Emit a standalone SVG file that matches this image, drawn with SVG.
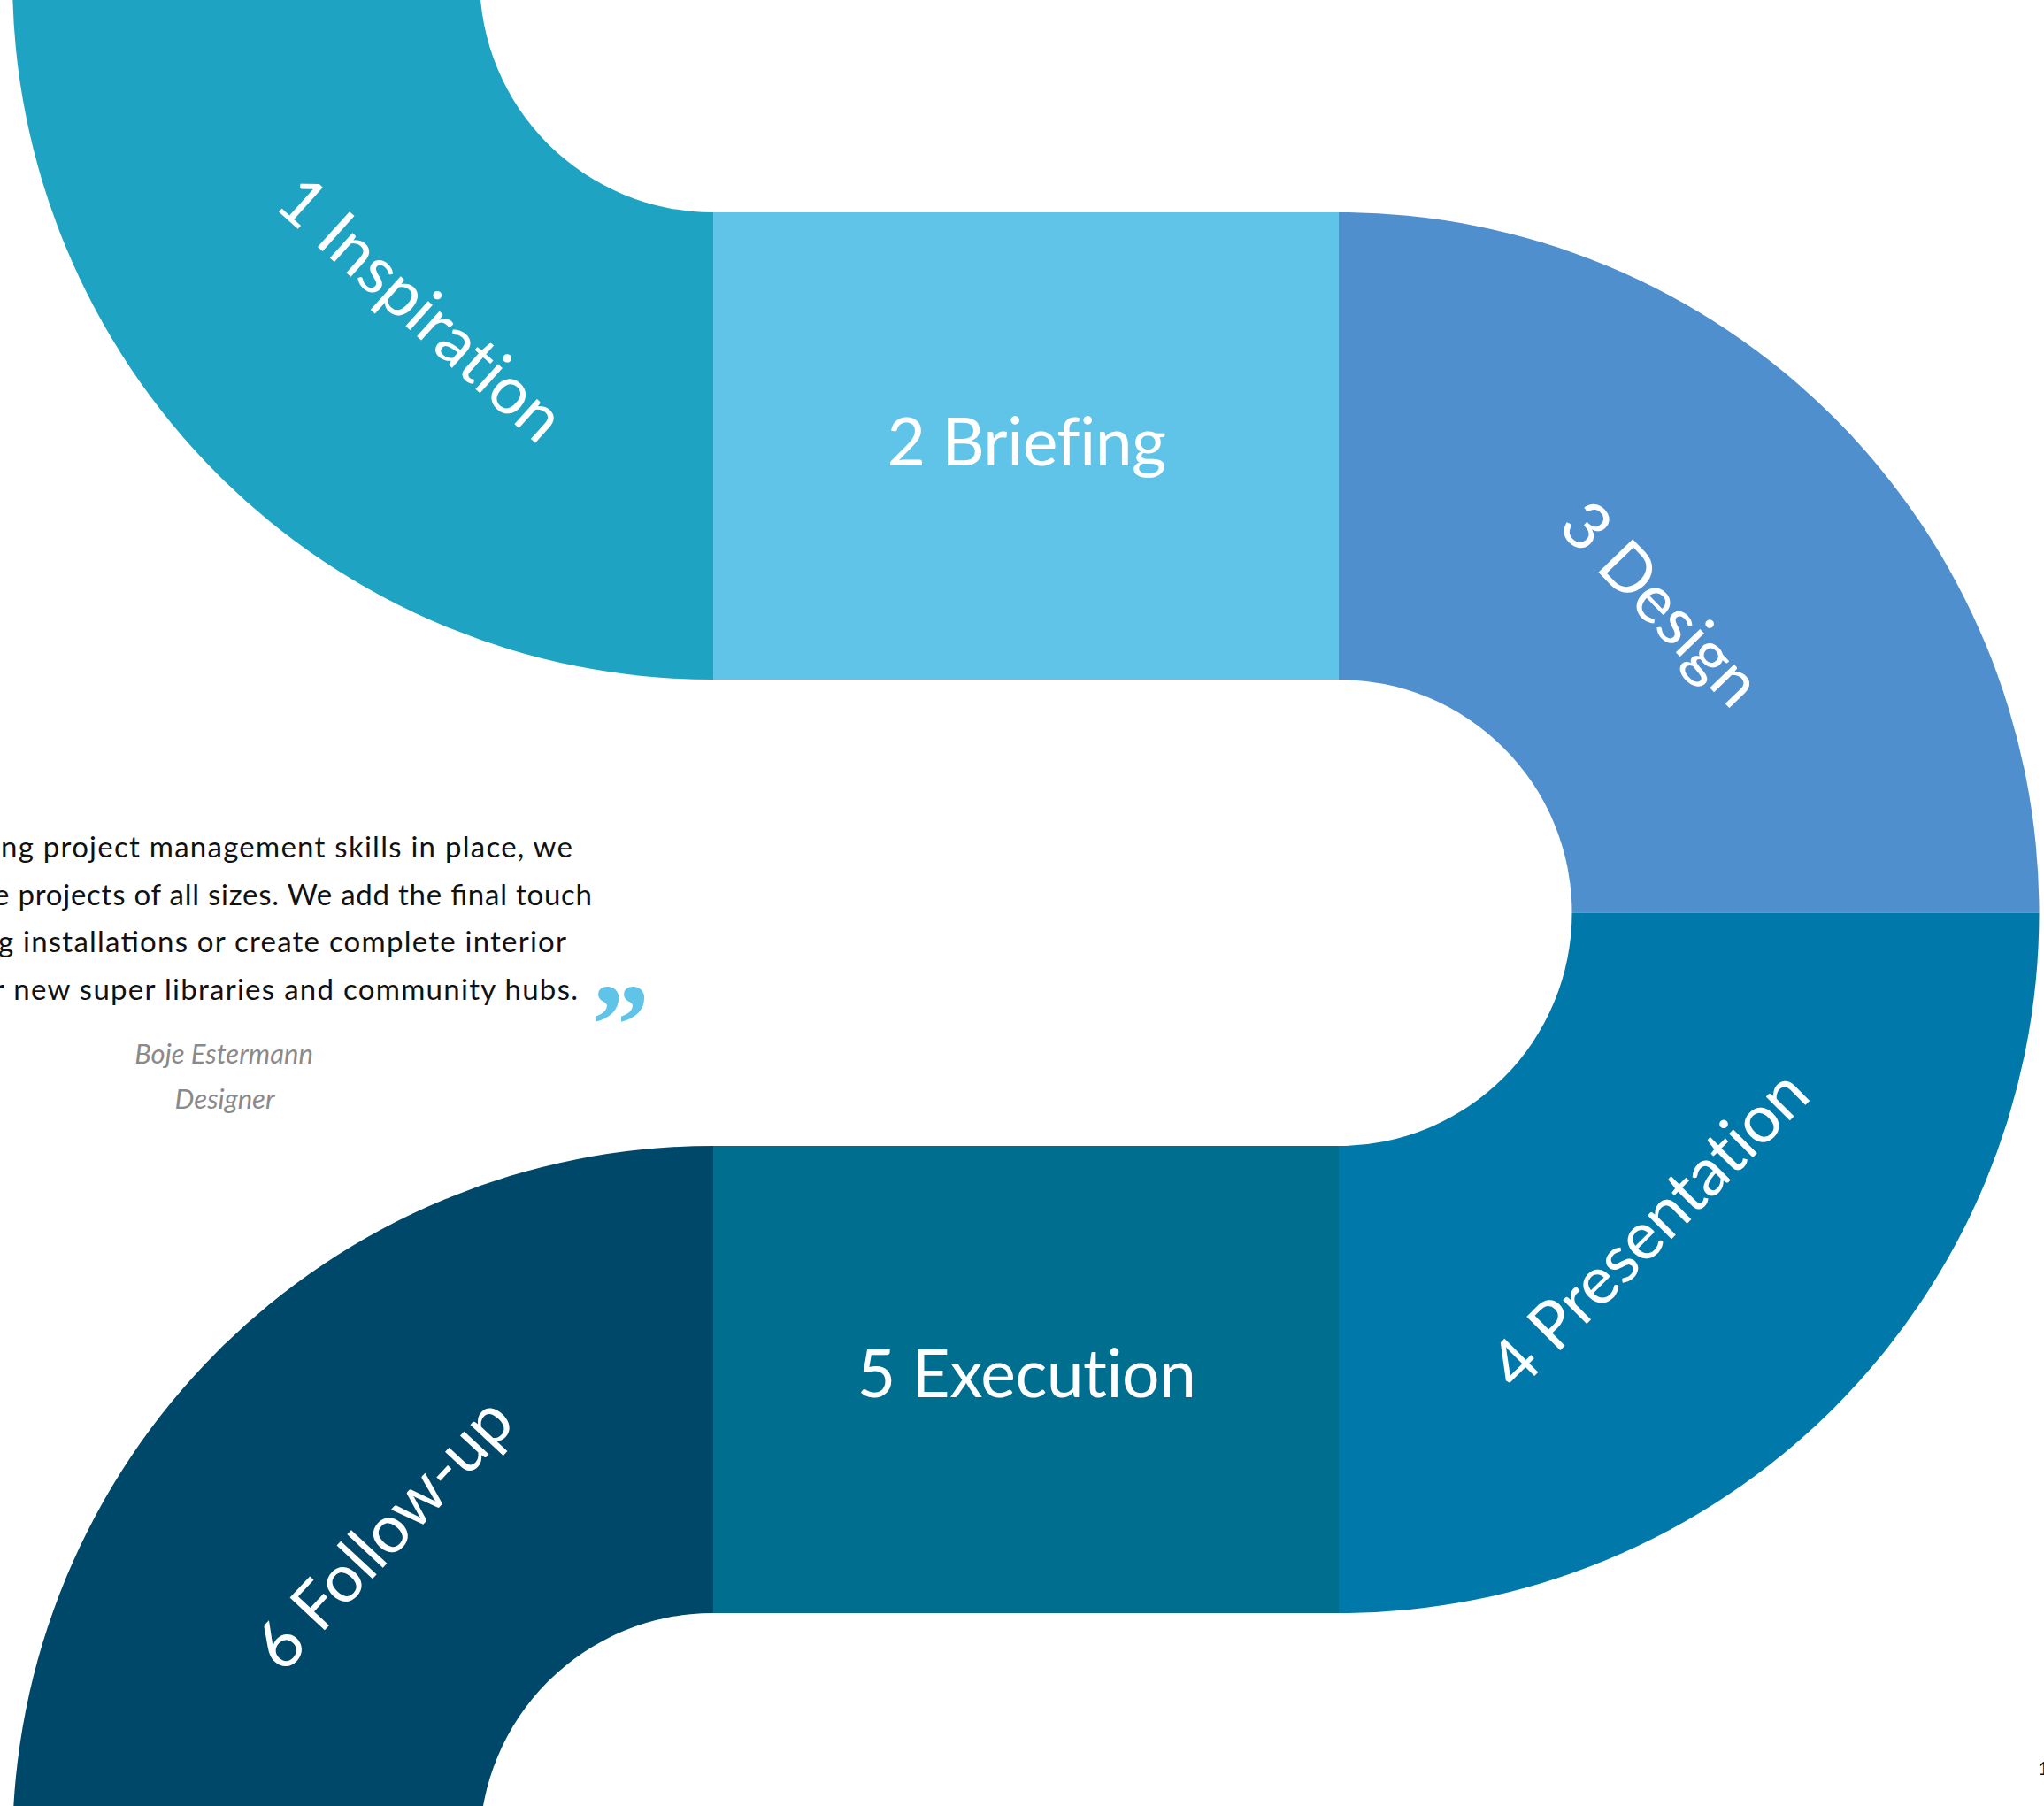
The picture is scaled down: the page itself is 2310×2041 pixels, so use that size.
<svg xmlns="http://www.w3.org/2000/svg" width="2310" height="2041" viewBox="0 0 2310 2041">
<style>
.lbl{font-family:Lato,"Noto Sans",sans-serif;font-size:75px;letter-spacing:-0.5px;fill:#fff;}
.q{font-family:Lato,"Noto Sans",sans-serif;font-size:33px;fill:#111;}
.a{font-family:Lato,"Noto Sans",sans-serif;font-size:31px;font-style:italic;fill:#8a8a8a;}
</style>
<rect width="2310" height="2041" fill="#fff"/>
<g id="step1">
<path d="M 806 768 A 792 792 0 0 1 14 -24 L 542 -24 A 264 264 0 0 0 806 240 Z" fill="#1ea3c3"/>
<text class="lbl" text-anchor="middle" transform="translate(473,352) rotate(42)" y="22">1 Inspiration</text>
</g>
<g id="step2">
<rect x="806" y="240" width="707" height="528" fill="#5fc4e8"/>
<text class="lbl" text-anchor="middle" x="1160" y="526">2 Briefing</text>
</g>
<g id="step3">
<path d="M 1513 240 A 791.5 791.5 0 0 1 2304.5 1031.5 L 1776.5 1031.5 A 263.5 263.5 0 0 0 1513 768 Z" fill="#508fcd"/>
<text class="lbl" text-anchor="middle" transform="translate(1874,685) rotate(46)" y="22">3 Design</text>
</g>
<g id="step4">
<path d="M 2304.5 1031.5 A 791.5 791.5 0 0 1 1513 1823 L 1513 1295 A 263.5 263.5 0 0 0 1776.5 1031.5 Z" fill="#0079aa"/>
<text class="lbl" text-anchor="middle" transform="translate(1866,1392) rotate(-45)" y="22">4 Presentation</text>
</g>
<g id="step5">
<rect x="806" y="1295" width="707" height="528" fill="#006e8f"/>
<text class="lbl" text-anchor="middle" x="1160" y="1579">5 Execution</text>
</g>
<g id="step6">
<path d="M 806 1295 A 792 792 0 0 0 14 2087 L 542 2087 A 264 264 0 0 1 806 1823 Z" fill="#00486a"/>
<text class="lbl" text-anchor="middle" transform="translate(436,1736) rotate(-47)" y="22">6 Follow-up</text>
</g>
<g id="connectors"></g>
<g id="quote">
<text class="q" x="1" y="969" textLength="646">ng project management skills in place, we</text>
<text class="q" x="-7" y="1023" textLength="676">e projects of all sizes. We add the final touch</text>
<text class="q" x="-2" y="1076" textLength="642">g installations or create complete interior</text>
<text class="q" x="-7" y="1130" textLength="660">r new super libraries and community hubs.</text>
<text x="668" y="1203" font-family="'Liberation Serif',serif" font-weight="bold" font-size="132" fill="#5fc4e8">”</text>
<text class="a" text-anchor="middle" x="253" y="1202">Boje Estermann</text>
<text class="a" text-anchor="middle" x="254" y="1253">Designer</text>
</g>
<text x="2303" y="2006" font-family="Lato,sans-serif" font-size="22" fill="#111">1</text>
</svg>
